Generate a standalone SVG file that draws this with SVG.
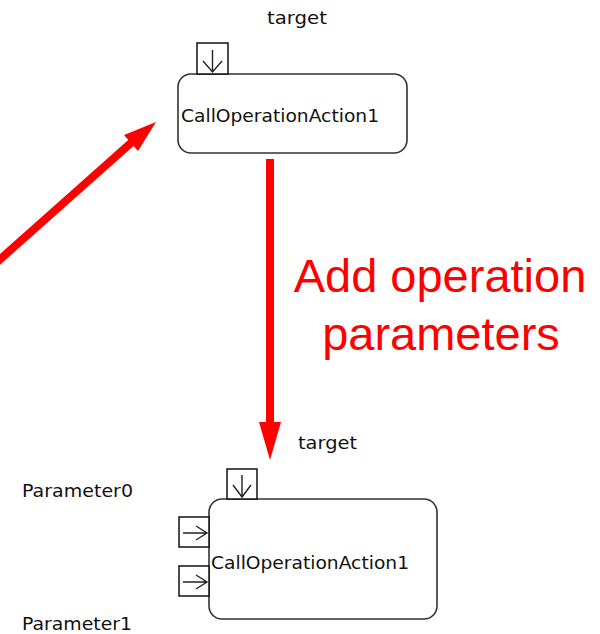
<svg xmlns="http://www.w3.org/2000/svg" width="600" height="634" viewBox="0 0 600 634">
<defs>
<style>
.node{fill:#fff;stroke:#333;stroke-width:1.6}
.pin{fill:#fff;stroke:#111;stroke-width:1.5}
.pa{fill:none;stroke:#222;stroke-width:1.4}
.lbl{font-family:"DejaVu Sans",Verdana,sans-serif;font-size:18.5px;fill:#111}
.red{font-family:"Liberation Sans",Arial,sans-serif;font-size:47px;fill:#ff0000;text-anchor:middle}
.conn{stroke:#ff0000;stroke-width:8;fill:none}
</style>
</defs>
<g id="connectors">
<line class="conn" x1="270" y1="159" x2="270" y2="425"/>
<polygon points="259,422 281,422 270,460" fill="#ff0000"/>
<line class="conn" x1="-4" y1="263" x2="132" y2="142"/>
<polygon points="124,135 156,122 138,151" fill="#ff0000"/>
</g>
<g id="label-add">
<text class="red" x="440" y="292">Add operation</text>
<text class="red" x="441" y="350">parameters</text>
</g>
<g id="node-top">
<text class="lbl" x="267" y="24" textLength="60" lengthAdjust="spacingAndGlyphs">target</text>
<rect class="node" x="178" y="74" width="229" height="79" rx="13"/>
<rect class="pin" x="197" y="43" width="31" height="31"/>
<path class="pa" d="M212.5,50 V72 M203,61 L212.5,72 L222,61"/>
<text class="lbl" x="181" y="122" textLength="198" lengthAdjust="spacingAndGlyphs">CallOperationAction1</text>
</g>
<g id="node-bottom">
<text class="lbl" x="298" y="449" textLength="59" lengthAdjust="spacingAndGlyphs">target</text>
<rect class="node" x="209" y="499" width="228" height="120" rx="13"/>
<rect class="pin" x="227" y="469" width="30" height="30"/>
<path class="pa" d="M242,475 V497 M233,485 L242,497 L251,485"/>
<rect class="pin" x="179" y="517" width="30" height="30"/>
<path class="pa" d="M183,533 H207 M196,526 L207,533 L196,540"/>
<rect class="pin" x="179" y="566" width="30" height="30"/>
<path class="pa" d="M183,582 H207 M196,575 L207,582 L196,589"/>
<text class="lbl" x="211" y="569" textLength="198" lengthAdjust="spacingAndGlyphs">CallOperationAction1</text>
<text class="lbl" x="22" y="497" textLength="111" lengthAdjust="spacingAndGlyphs">Parameter0</text>
<text class="lbl" x="22" y="630" textLength="110" lengthAdjust="spacingAndGlyphs">Parameter1</text>
</g>
</svg>
